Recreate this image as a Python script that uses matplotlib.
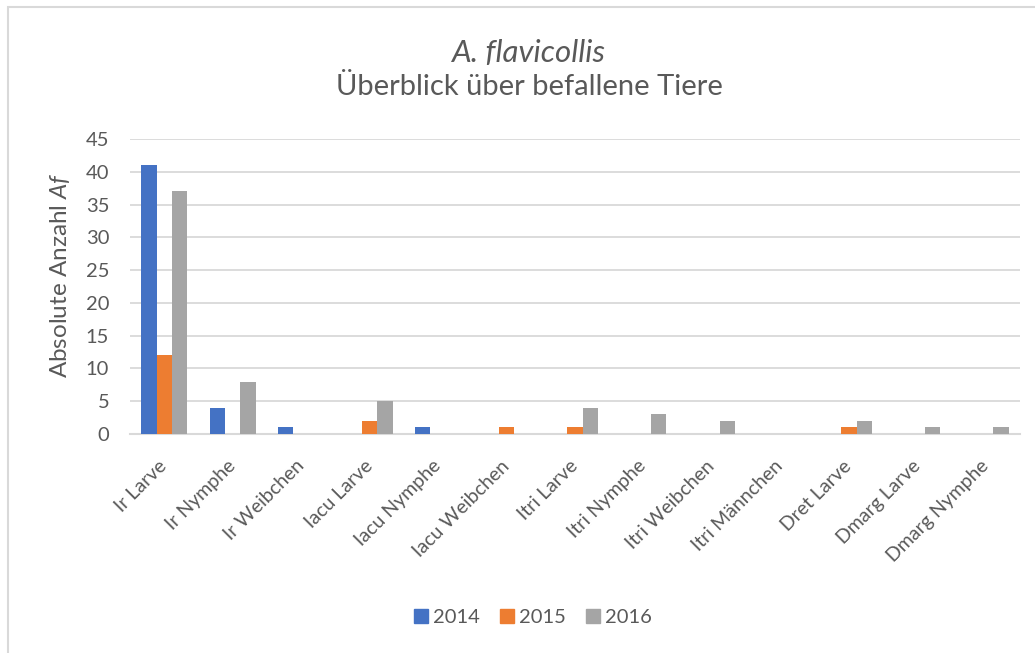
import matplotlib.pyplot as plt
import numpy as np
from matplotlib.patches import Patch, Rectangle

categories = ['Ir Larve', 'Ir Nymphe', 'Ir Weibchen', 'Iacu Larve', 'Iacu Nymphe',
              'Iacu Weibchen', 'Itri Larve', 'Itri Nymphe', 'Itri Weibchen',
              'Itri Männchen', 'Dret Larve', 'Dmarg Larve', 'Dmarg Nymphe']
years = ['2014', '2015', '2016']
v2014 = [41, 4, 1, 0, 1, 0, 0, 0, 0, 0, 0, 0, 0]
v2015 = [12, 0, 0, 2, 0, 1, 1, 0, 0, 0, 1, 0, 0]
v2016 = [37, 8, 0, 5, 0, 0, 4, 3, 2, 0, 2, 1, 1]
colors = ['#4472C4', '#ED7D31', '#A5A5A5']

plt.rcParams['font.family'] = ['Lato', 'DejaVu Sans']
plt.rcParams['mathtext.fontset'] = 'custom'
plt.rcParams['mathtext.it'] = 'Lato:italic'
plt.rcParams['mathtext.rm'] = 'Lato'
txt = '#595959'

fig = plt.figure(figsize=(10.35, 6.53), dpi=100)
# chart frame (right and bottom edges fall outside the image)
fig.patches.append(Rectangle((0.008, -0.05), 1.1, 0.94 + 0.0994, transform=fig.transFigure,
                             fill=False, edgecolor='#D9D9D9', linewidth=1.5))
ax = fig.add_axes([0.1256, 0.3354, 0.8599, 0.4518])

x = np.arange(len(categories))
w = 0.224
for i, (vals, c) in enumerate(zip([v2014, v2015, v2016], colors)):
    ax.bar(x + (i - 1) * w, vals, w, color=c, zorder=3)

ax.set_xlim(-0.5, len(categories) - 0.5)
ax.set_ylim(0, 45)
ax.set_yticks(range(0, 46, 5))
ax.grid(axis='y', color='#D9D9D9', linewidth=1.3, zorder=0)
for s in ['top', 'right', 'left']:
    ax.spines[s].set_visible(False)
ax.spines['bottom'].set_color('#D9D9D9')
ax.spines['bottom'].set_linewidth(1.5)
ax.tick_params(axis='y', length=0, labelsize=14.5, colors=txt, pad=15)
ax.tick_params(axis='x', length=0, labelsize=14, colors=txt, pad=21)
ax.set_xticks(x)
ax.set_xticklabels(categories, rotation=45, ha='right', va='center', rotation_mode='anchor')

fig.text(0.058, 0.579, 'Absolute Anzahl $Af$', rotation=90, ha='center', va='center',
         fontsize=17.5, color=txt)

fig.text(0.5097, 0.905, 'A. flavicollis', ha='center', va='baseline', fontsize=22.5,
         style='italic', color=txt)
fig.text(0.512, 0.8545, 'Überblick über befallene Tiere', ha='center', va='baseline',
         fontsize=21, color=txt)

handles = [Patch(color=c, label=y) for c, y in zip(colors, years)]
fig.legend(handles=handles, loc='center', bbox_to_anchor=(0.515, 0.055), ncol=3,
           frameon=False, fontsize=14.5, labelcolor=txt, handlelength=0.7,
           handleheight=0.7, handletextpad=0.25, columnspacing=1.0)

fig.savefig('out.png', dpi=100)
